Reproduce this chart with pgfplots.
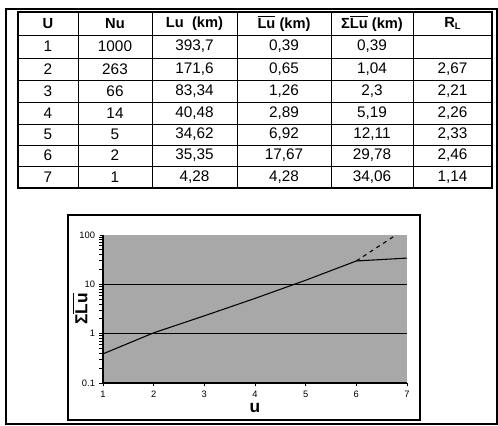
\documentclass[border=0pt]{standalone}
\usepackage{pgfplots}
\pgfplotsset{compat=1.18}
\usepackage{fontspec}
\setmainfont{Liberation Sans}

% overlined text (mean length)
\newcommand\ovl[1]{$\overline{\hbox{#1}}$}
% one table row: y centre, then six cells
\newcommand\trow[7]{%
  \node at (48,#1) {#2};
  \node at (115,#1) {#3};
  \node at (194.5,#1) {#4};
  \node at (284,#1) {#5};
  \node at (372,#1) {#6};
  \node at (452.5,#1) {#7};
}

\begin{document}
\begin{tikzpicture}[x=0.75pt,y=-0.75pt]
  \useasboundingbox (0,0) rectangle (498,425);

  % outer frame
  \draw[line width=1.4pt] (6,9) rectangle (497,424);

  % table grid
  \draw[line width=1pt] (18,12) rectangle (492,188);
  \foreach \yy in {35,58,80,102,124,145,166}
    \draw[line width=0.7pt] (18,\yy) -- (492,\yy);
  \foreach \xx in {78,152,237,331,413}
    \draw[line width=0.7pt] (\xx,12) -- (\xx,188);

  \begin{scope}[font=\fontsize{11.5}{13}\selectfont]
    \begin{scope}[font=\fontsize{11}{13}\selectfont\bfseries]
      \trow{23.5}{U}{Nu}{Lu\ \ (km)}{\ovl{Lu} (km)}{Σ\ovl{Lu} (km)}{R\raisebox{-0.35ex}{\scriptsize L}}
    \end{scope}
    \trow{46.5}{1}{1000}{393,7}{0,39}{0,39}{}
    \trow{69}{2}{263}{171,6}{0,65}{1,04}{2,67}
    \trow{91}{3}{66}{83,34}{1,26}{2,3}{2,21}
    \trow{113}{4}{14}{40,48}{2,89}{5,19}{2,26}
    \trow{134.5}{5}{5}{34,62}{6,92}{12,11}{2,33}
    \trow{155.5}{6}{2}{35,35}{17,67}{29,78}{2,46}
    \trow{177}{7}{1}{4,28}{4,28}{34,06}{1,14}
  \end{scope}

  % chart frame
  \draw[line width=0.9pt] (68,215) rectangle (420,420);

  \coordinate (pa) at (103,383);
  \begin{axis}[
      at={(pa)}, anchor=south west,
      scale only axis,
      width=228pt, height=111pt,
      ymode=log,
      xmin=1, xmax=7, ymin=0.1, ymax=100,
      xtick={1,2,3,4,5,6,7},
      ytick={0.1,1,10,100},
      yticklabels={0.1,1,10,100},
      axis x line*=bottom, axis y line*=left,
      axis line style={-, line width=0.8pt},
      tick align=outside,
      major tick length=2.5pt,
      minor tick num=0,
      tick style={black, line width=0.7pt},
      /pgf/number format/assume math mode=true,
      tick label style={font=\fontsize{7}{8}\selectfont},
      axis background/.style={fill=black!34},
      xlabel={u},
      ylabel={Σ\ovl{Lu}},
      every axis x label/.style={at={(axis description cs:0.5,-0.17)}, anchor=center, font=\fontsize{13}{14}\selectfont\bfseries},
      every axis y label/.style={at={(axis description cs:-0.075,0.5)}, rotate=90, anchor=center, font=\fontsize{13}{14}\selectfont\bfseries},
      clip=true,
    ]
    % horizontal reference lines
    \addplot[black, line width=0.8pt] coordinates {(1,1) (7,1)};
    \addplot[black, line width=0.8pt] coordinates {(1,10) (7,10)};
    % cumulative mean length
    \addplot[black, line width=0.8pt] coordinates {
      (1,0.39) (2,1.04) (3,2.3) (4,5.19) (5,12.11) (6,29.78) (7,34.06)};
    % extrapolated trend
    \addplot[black, line width=0.8pt, dashed] coordinates {(6,29.78) (7,140)};
  \end{axis}
\end{tikzpicture}
\end{document}
